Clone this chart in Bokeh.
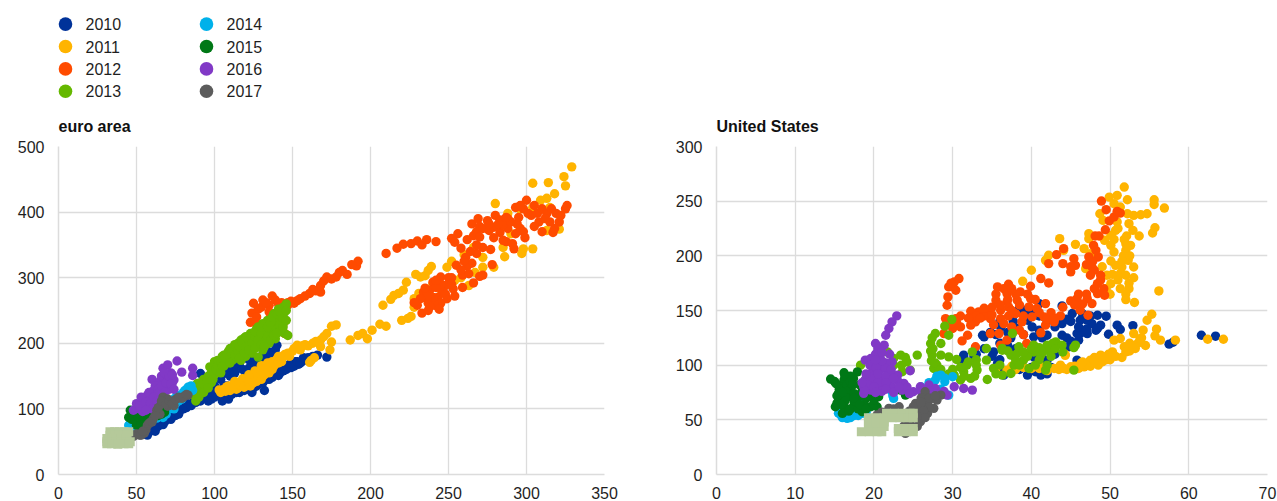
from bokeh.embed import file_html
from bokeh.resources import INLINE
from bokeh.plotting import figure
from bokeh.layouts import row, column
from bokeh.models import Range1d, FixedTicker, ColumnDataSource
from bokeh.core.properties import value

years = ["2010", "2011", "2012", "2013", "2014", "2015", "2016", "2017"]
colors = ["#003299", "#ffb400", "#ff4b00", "#65b800", "#00b1ea", "#007816", "#8139c6", "#5c5c5c"]
extra_color = "#b5c99a"

ea_xticks = [0, 50, 100, 150, 200, 250, 300, 350]
ea_yticks = [0, 100, 200, 300, 400, 500]
us_xticks = [0, 10, 20, 30, 40, 50, 60, 70]
us_yticks = [0, 50, 100, 150, 200, 250, 300]

ea_2010 = [(56,62),(58,65),(60,68),(62,66),(63,72),(66,78),(68,80),(70,88),(72,84),(74,92),(76,95),(78,98),(80,100),(82,102),(84,106),(86,108),(88,110),(91,154),(92,118),(94,120),(96,112),(96,124),(98,115),(100,118),(102,125),(103,150),(105,112),(106,118),(106,155),(108,154),(108,120),(110,160),(112,125),(113,165),(115,128),(116,170),(118,130),(120,135),(122,175),(124,138),(125,172),(126,140),(128,148),(130,180),(132,150),(134,155),(135,178),(136,160),(138,152),(139,190),(140,197),(141,151),(141,158),(143,160),(145,162),(147,165),(149,163),(150,170),(152,172),(154,168),(156,172),(158,175),(160,178),(163,180),(166,182),(172,179),(140,165),(135,150),(128,155),(120,150),(132,128),(124,125),(115,140),(108,135),(100,150),(96,140),
    (57,60),(61,72),(64,74),(67,76),(69,84),(71,90),(73,88),(75,90),(77,92),(79,100),(81,106),(83,108),(85,105),(87,112),(89,118),(91,112),(93,125),(95,118),(97,130),(99,125),(100,135),(101,120),(104,128),(106,135),(109,115),(110,132),(111,122),(114,125),(116,125),(117,135),(119,128),(121,130),(123,135),(125,132),(127,135),(129,140),(131,140),(133,145),(135,145),(137,148),(139,155),(142,155),(144,158),(146,160),(148,168),(151,165),(153,172),(155,170),(157,178),(161,175),(104,145),(110,150),(113,155),(118,160),(122,162),(126,168),(130,170),(134,188),(138,180)]
ea_2011 = [(103,129),(106,130),(108,134),(110,128),(112,136),(113,142),(115,132),(116,140),(118,146),(120,138),(121,144),(122,152),(124,142),(125,150),(126,158),(128,148),(129,156),(130,166),(131,150),(131,164),(133,158),(134,170),(136,162),(137,172),(139,170),(140,176),(142,176),(144,180),(147,185),(150,188),(153,197),(156,196),(160,196),(163,200),(162,174),(161,171),(168,205),(172,215),(175,226),(174,190),(175,202),(187,205),(192,212),(195,215),(198,207),(201,220),(206,229),(210,226),(220,235),(224,238),(226,241),(208,258),(213,267),(215,273),(218,276),(221,281),(223,293),(228,268),(228,255),(229,305),(232,301),(235,303),(237,311),(239,317),(231,276),(249,316),(252,325),(254,296),(260,335),(263,288),(267,308),(266,346),(268,369),(272,316),(279,316),(272,331),(285,346),(286,332),(290,367),(297,337),(298,344),(304,344),(280,413),(288,398),(304,444),(314,445),(324,454),(325,440),(329,469),(318,428),(309,418),(313,421),(304,407),(315,407),(296,405),(321,374),(313,372),(240,290),(245,282),(258,300),
    (104,125),(107,127),(109,135),(111,131),(114,130),(117,135),(119,133),(122,140),(123,135),(125,140),(127,142),(127,155),(130,145),(130,158),(132,152),(133,165),(135,155),(135,168),(137,160),(138,165),(141,170),(141,180),(143,172),(145,183),(148,180),(151,192),(155,190),(158,198),(165,203),(170,210),(168,195),(164,178),(178,228)]
ea_2012 = [(123,232),(125,261),(131,266),(137,272),(141,260),(124,246),(128,252),(135,258),(144,230),(145,215),(147,258),(151,261),(155,268),(161,276),(165,280),(168,278),(168,288),(172,301),(178,301),(182,311),(185,305),(191,318),(192,325),(210,337),(217,345),(221,351),(226,352),(230,356),(233,350),(236,358),(242,355),(252,360),(256,367),(254,354),(266,364),(265,382),(269,390),(270,378),(275,387),(280,395),(283,388),(279,377),(283,369),(279,361),(287,355),(288,390),(293,407),(288,375),(294,382),(300,418),(301,398),(307,398),(310,405),(313,398),(319,398),(315,385),(321,385),(310,370),(317,369),(325,405),(326,410),(299,361),(293,367),(296,375),(292,344),(285,357),(291,352),(272,346),(277,343),(268,337),(261,331),(265,322),(255,319),(262,318),(259,304),(263,306),(278,320),(272,304),(270,302),(266,292),(259,285),(253,283),(250,300),(245,301),(240,293),(248,288),(234,278),(238,281),(243,270),(249,268),(230,258),(237,261),(245,261),(233,246),(237,250),(241,258),(246,278),(240,270),(236,268),
    (268,370),(272,375),(276,372),(285,380),(290,385),(295,392),(298,405),(303,395),(305,410),(308,385),(312,390),(316,405),(322,395),(318,375),(305,378),(298,370),(287,392),(282,382),(276,382),(296,410),(270,362),(262,358),(258,345),(264,340),(268,350),(260,325),(252,300),(258,312),(245,290),(242,285),(252,290),(236,272),(232,268),(244,252),(238,256),(235,284),(242,296),(248,275),(254,272),(228,262),
    (127,240),(130,255),(133,262),(126,232),(135,248),(139,266),(143,262),(147,262),(149,264),(153,265),(158,272),(163,282),(170,295),(175,298),(180,308),(188,320)]
ea_2013 = [(87,121),(88,112),(89,139),(90,128),(92,135),(93,145),(94,130),(96,150),(97,164),(98,140),(100,172),(100,152),(102,174),(103,160),(105,180),(106,182),(106,165),(108,170),(109,188),(110,178),(112,194),(112,175),(114,190),(115,200),(117,174),(117,205),(118,190),(119,208),(120,180),(121,198),(123,215),(124,185),(125,205),(127,222),(128,179),(128,195),(129,212),(131,230),(131,190),(132,205),(133,220),(134,235),(135,200),(136,215),(138,245),(138,225),(139,207),(140,235),(141,252),(142,218),(143,240),(144,255),(145,215),(145,248),(147,212),(146,260),
    (88,125),(90,118),(91,140),(93,125),(95,142),(96,132),(98,155),(99,145),(101,160),(102,165),(104,155),(104,172),(105,165),(107,178),(108,184),(110,170),(110,192),(111,185),(113,182),(113,198),(115,188),(116,178),(116,195),(118,200),(119,186),(120,195),(120,210),(122,190),(122,205),(124,200),(124,212),(126,192),(126,210),(126,218),(128,205),(128,225),(130,198),(130,215),(130,225),(132,195),(132,228),(134,210),(134,225),(136,205),(136,232),(137,240),(138,212),(140,215),(140,245),(142,228),(142,248),(144,225),(144,238),(146,235),(146,250)]
ea_2014 = [(45,75),(47,78),(50,80),(54,76),(57,80),(60,84),(63,86),(67,87),(69,92),(66,100),(70,105),(72,110),(74,115),(76,121),(78,118),(80,125),(83,133),(85,135),(82,122),(74,100),(48,88),
    (52,82),(56,86),(62,90),(64,95),(68,98),(71,100),(73,112),(75,108),(77,112),(79,115),(81,128),(84,128),(86,128),(49,82),(47,72)]
ea_2015 = [(45,87),(46,98),(48,90),(50,75),(50,95),(53,83),(55,78),(56,92),(58,88),(60,85),(62,95),(64,90),(67,101),(68,95),(52,72),
    (47,84),(49,82),(51,88),(52,92),(54,82),(55,88),(57,82),(59,92),(61,90),(63,98),(65,98),(66,92),(53,76)]
ea_2016 = [(48,98),(50,108),(52,100),(54,112),(55,105),(57,121),(57,101),(59,115),(60,145),(61,128),(62,108),(63,135),(64,120),(65,142),(66,150),(67,162),(67,124),(68,135),(70,167),(70,148),(71,130),(72,155),(73,140),(74,144),(76,173),(79,156),(86,162),(86,151),(54,96),(60,104),
    (52,105),(53,118),(56,110),(58,125),(59,108),(61,118),(62,135),(63,112),(64,130),(65,125),(66,135),(68,125),(68,155),(69,140),(71,150),(72,138),(73,152),(74,130),(60,100),(56,98),(66,115)]
ea_2017 = [(45,57),(47,60),(50,62),(52,60),(55,63),(56,68),(57,75),(59,80),(61,86),(63,98),(65,92),(67,118),(66,108),(68,112),(70,104),(72,108),(74,112),(76,116),(79,116),(81,120),(83,121),(70,115),(74,105),
    (48,58),(53,60),(54,66),(58,78),(60,80),(62,90),(64,102),(66,112),(69,108),(71,112),(73,108),(75,114),(77,118),(80,118),(82,122)]
ea_2018 = [(33,65),(36,65),(39,65),(42,65),(45,65),(33,60),(36,60),(39,60),(42,60),(44,60),(31,55),(34,55),(37,55),(40,55),(43,55),(31,50),(34,50),(37,50),(40,50),(43,50),(46,50),(31,47),(34,47),(38,46),(42,47),(45,47)]

us_2010 = [(43.9,154.2),(41,156.3),(39,150.2),(39.5,141.1),(40.1,135),(40.3,125.9),(42,127.4),(43.9,138),(43.9,127.4),(45.2,147.2),(46.2,141.1),(47.7,138),(48.4,145.7),(49.5,144.8),(48.8,136.6),(48.2,132),(47.1,128.9),(46.2,128.9),(46,122.9),(49.8,128.3),(50.9,136.6),(51.3,132.6),(52.9,136.2),(57.5,119.2),(58,121),(61.6,127.4),(63.4,126.5),(35.2,112.2),(34,125.9),(34.8,130),(36.1,135),(38.2,133.5),(31.4,109.2),(32.7,107.6),(37.4,125),(41.4,125),(44.8,116.8),(45,118),(35.7,101.6),(31,104.6),(42,104.6),(40.3,107.6),(33.8,127.4),(31.4,107.6),(36.5,90.9),(39.5,90.9),(41.2,90.9),(45.8,129),(47.1,141),(48.4,133.5),(45.8,104.6),(37.7,140),(36,120),(38,115),(42.5,98),(43,110),
    (38.5,152),(40,148),(41,145),(42,140),(43,135),(44.5,142),(45,140),(46,135),(47,133),(47.5,145),(46.5,147),(41,132),(39,128),(37,130),(35.5,128),(36,140),(37,118),(33,110),(34,115),(35,108),(36,105),(40,98),(38.5,96),(40.5,94),(42,92),(37.5,95),(36,97),(44.5,125),(45,122)]
us_2011 = [(51.8,262.9),(49.9,253.7),(50.9,255.3),(52.2,251.3),(50.5,247.7),(51.3,244.6),(55.6,251.3),(55.6,247),(56.9,243.7),(54.7,238.5),(53.9,237.6),(53,237),(48.7,238.5),(49.1,232.4),(52.2,238.5),(50.9,231),(50.7,223.3),(52.4,229.4),(52.9,223.3),(53.7,218.1),(55.7,225.7),(55.4,220.9),(52.1,218.1),(50.1,218.7),(49.3,214.2),(47.3,220.3),(47.3,215.7),(43.6,215.7),(45.6,210.5),(46.7,206.6),(50.1,209.6),(50.5,203.5),(52,211),(52.6,209.6),(52,205),(52.3,195.9),(50.1,195.3),(50.7,191.3),(51.5,189.8),(53,189.8),(51.3,183.7),(52,182.2),(49.6,182.2),(52.4,175),(52.4,170),(51.3,170),(50.1,174.6),(56.2,167.9),(50,164.9),(53.1,157.3),(41.8,195.9),(42.2,200.5),(40,186.8),(38.9,176.7),(44.1,205),(46.9,188.3),(47.5,202),(55.3,146.6),(54.7,141.1),(55.9,132.9),(55.7,126.8),(56.4,122.9),(58.3,122.9),(54.2,132),(53,128.9),(51.3,124.4),(50.5,122.9),(53.5,119.8),(53.2,115.2),(51.8,116.8),(50.3,112.2),(48.8,109.2),(47.5,104.6),(46.3,101.6),(45,98.5),(43.7,100),(44.3,109.8),(44.1,97),(46.7,98.5),(48.4,101.6),(42.9,97),(36.9,95.5),(44.3,109),(49.5,105),(49.8,110),(52,112),(47,100),(41,100),(39,98),(62.4,123.7),(64.4,123.7),(48,107),
    (42,95),(43.5,96),(44.5,96),(45.5,99),(46,97),(47.5,99),(48.5,100),(49,103),(50,105),(50.7,108),(51.5,107),(52.5,113),(52.5,120),(54,125),(46.5,103),(40,97),(38,96),(35.5,97),(37.5,99),(41,97),(48,104),(49,108),(54.5,118),(53.8,124),
    (51,225),(50.5,215),(51.8,215),(51.7,200),(49,190),(52.5,200),(51,178),(51.5,195),(53,180),(52,165),(52,160),(49.5,170),(50.3,183)]
us_2012 = [(48.9,250.1),(49.5,242.2),(49.9,232),(50.5,235.5),(50.9,240.7),(51.3,239.1),(49.4,223.9),(48.1,218.1),(48.6,218.1),(47.9,209.6),(44.1,206.6),(43.2,201.1),(42.2,192.9),(44,192.9),(45.4,197.4),(45.6,191.3),(45,185.3),(47.3,199),(48.5,199),(47.7,189.8),(48,186.8),(47.5,182.2),(48.8,182.2),(48.4,174.6),(49.2,170),(48.4,165.5),(49.3,164),(47.1,160.9),(45.8,160.9),(45,158.8),(47.7,156.3),(46.2,150.2),(47.2,145.7),(41.2,179.2),(42.2,175.2),(39.9,172.2),(41.8,156.3),(38.6,167),(37.1,174),(35.7,171.6),(36.9,165.5),(35.5,159.4),(36.9,158),(38.2,159.4),(39.9,160.9),(39.7,153.3),(40.7,151.8),(38,147.2),(37.1,153.3),(36.1,150.2),(34.6,150.2),(33.3,148.7),(32.3,149.3),(34.8,142.6),(36.1,142.6),(37.1,145),(38.8,139.6),(40.1,144.2),(41.6,144.2),(43.7,145.1),(41.8,136.6),(42.9,139.6),(32.9,139.6),(32.3,136.6),(29.1,142.6),(30.4,142.6),(31,135),(28.9,128.9),(30,133.5),(31.9,127.4),(31.2,122.2),(34.8,128.9),(35.9,128.9),(36.9,122.9),(36.1,118.3),(39.4,119.8),(41.2,129.6),(32.9,116.8),(30.8,179.2),(30.2,176.1),(29.5,171.6),(30.4,168.5),(29.4,162.4),(29.3,154.8),(29.8,175),(35.2,137),(37.5,135),(34,145),(39,128),
    (33,145),(35,146),(36,155),(37,160),(37.5,150),(38.5,155),(39,145),(38,165),(36.5,170),(39.5,165),(40.5,160),(41,148),(42.5,148),(42,142),(43,143),(35,153),(34,152),(33.5,143),(32,143),(31,145),(30.5,139),(29.8,138),(35.5,165),(37.5,170),(36.5,138),(38.5,132),(44,153),(46.5,156),(47,165),(48,170),(48.8,178),(46,165),(45.5,155),(47.8,195),(48.2,205),(47,192),(45,190)]
us_2013 = [(29.9,141.7),(29,135.7),(29.5,127.4),(27.8,129),(27.2,119.8),(28.5,119.8),(27.4,109.2),(28.5,109.2),(29.5,107.6),(30.5,105.2),(27.6,97),(28.5,92.4),(30.2,90.9),(31.4,94),(32.3,87.9),(31,86.4),(32.5,112.2),(32,103),(33.1,95.5),(34.4,86.9),(34.3,115.2),(34.3,104.6),(35.2,97),(36.3,90.9),(37.6,129),(36.3,115.2),(37.4,109.2),(37.8,100),(37.4,92.4),(38.4,116.8),(39,104.6),(39.7,97),(40.3,118.3),(42,118.3),(41.2,109.2),(41.8,95.5),(43.1,121.3),(42.4,113.7),(43.9,118.3),(45.4,95.5),(45.6,118.3),(45.4,116),(25.5,109.2),(24.2,103),(23.4,109.2),(24.6,95.5),(23.6,94),(18.3,100),(21.7,112.2),(22.5,106.1),(27.2,113),(27.3,104),(28,100),(31,98),(31.8,100),(38.2,110.7),(36.3,113.7),(42.7,119.8),(40.3,112),(39.5,108),(41,105),(42.5,108),(27.4,125),
    (27.5,115),(27.8,102),(28.5,96),(29.5,92),(32.8,90),(30,96),(33,105),(33,100),(35.5,92),(36,100),(38,105),(38.5,100),(37,113),(39,112),(40,115),(41,116),(41.5,112),(42,100),(40.5,100),(43,115),(44,112),(22.5,100),(23.5,100),(24,107),(31.5,90)]
us_2014 = [(16.6,51.3),(15.8,54.4),(18.1,55.9),(18.6,56),(18.1,68),(22.3,75.7),(22.5,69.6),(28.5,90.9),(30,89.4),(27.8,86.4),(26.8,78.7),(29.5,72.6),(17.5,54),(27,84),(29,85),
    (16,52),(17,52),(15.5,56),(18,54),(19,57),(22.4,72),(28,90),(29,88),(26,80),(28.5,78),(29,74)]
us_2015 = [(14.5,87.3),(16.2,93),(15,85),(17.9,93.9),(17.4,87.9),(16.2,86.3),(15.8,80.3),(15.5,74.2),(17,78.7),(15.5,68),(17,71.1),(18.1,71.1),(15.1,62),(16.2,62),(17.4,62),(16,55.9),(18.5,57.4),(19.6,62),(20.4,62),(19,70),(20.6,71.1),(21.9,80.3),(18.9,86.3),(24,72.6),(23.4,77.2),(16,72),(16.3,67),(17.5,66),(18.8,64),(15.6,78),(16.6,82),
    (15.3,72),(15.3,65),(16.5,76),(16.5,70),(17.5,74),(17.5,70),(16.8,58),(15.8,64),(17,60),(18,60),(18.2,64),(19,60),(20,64),(16.3,90),(15.2,83),(17,90),(18.2,82),(19.5,72),(16,75),(17,85),(17.3,82),(18.5,76),(20,68)]
us_2016 = [(22.9,145.1),(22.3,139.6),(21.9,133.5),(21.5,127.4),(20.2,119.8),(21.3,118.3),(20.8,109),(19.6,106.1),(18.9,104.6),(22.3,103),(20.8,96),(19.8,94),(23,90.9),(24.6,94.9),(18.9,86.3),(20.8,86),(21.9,86),(23.8,83.3),(18.7,80.3),(19.6,77.2),(18.7,74.2),(20.8,80),(23.6,77.2),(25,75.7),(25.9,80.3),(27,81.8),(27.8,78.7),(29.3,72.6),(30.2,80.3),(31.4,78.7),(32.5,77.2),(28.9,76),(20.4,102),(21.5,102),(20.2,110),(22,92),(19.5,84),(21,76),(22.3,80),(23,86),(20,90),(21.5,97),
    (19.5,100),(20.3,98),(21,104),(20.5,92),(21.5,90),(22.2,96),(19.5,88),(20.5,84),(21.5,84),(22.5,88),(19.2,82),(20,80),(21.5,78),(22.5,75),(18.8,77),(20.2,75),(24.2,80),(24.5,74),(26,76),(27,77),(28,74),(23.2,80),(20.5,115),(21,112),(20.2,105),(18.5,84),(19,92),(22,110)]
us_2017 = [(26.5,75.7),(28.5,72.6),(27.4,69.6),(25.3,65),(26.8,65),(25.7,57.4),(26.8,55.9),(25.9,48.3),(24.9,43.7),(23.8,44.3),(24,37.6),(23.2,62),(21.9,60.5),(20.4,54.4),(23.4,55.9),(27.6,60.5),(25,52),(26,70),(27,62),(26.2,60),
    (25.8,62),(26.3,58),(27,70),(28,68),(25,62),(24.5,58),(26.5,52),(25.5,44),(24.5,48),(22.5,60),(21,57),(25.5,53),(27.8,72),(26,66)]
us_2018 = [(21.6,56),(22.6,56),(23.6,56),(24.6,56),(25,56),(19.3,52),(20.3,52),(21.3,52),(22.3,52),(23.3,52),(24.3,52),(25,52),(19.3,48),(20.3,48),(21.3,48),(19.3,44),(20.3,44),(21.3,44),(18.4,39),(19.4,39),(20.4,39),(21,39),(23.1,39),(24.1,39),(25,39),(23.1,42),(24.1,42),(25,42)]

ea_series = [ea_2010, ea_2011, ea_2012, ea_2013, ea_2014, ea_2015, ea_2016, ea_2017]
us_series = [us_2010, us_2011, us_2012, us_2013, us_2014, us_2015, us_2016, us_2017]
title_ea = "euro area"
title_us = "United States"
FONT = "Liberation Sans"
GRID = "#dcdcdc"
TEXT = "#1f1f1f"


def panel(title, series, extra, xmax, ymax, xticks, yticks, width, height, left, right):
    p = figure(width=width, height=height, output_backend="svg", toolbar_location=None,
               x_range=Range1d(0, xmax), y_range=Range1d(0, ymax), title=title,
               min_border_left=left, min_border_right=right, min_border_top=46, min_border_bottom=27)
    p.outline_line_color = None
    p.title.text_font = FONT
    p.title.text_font_size = "16px"
    p.title.text_font_style = "bold"
    p.title.text_color = "#111111"
    p.title.offset = 0
    p.title.standoff = 24
    for ax, ticks in ((p.xaxis[0], xticks), (p.yaxis[0], yticks)):
        ax.ticker = FixedTicker(ticks=ticks)
        ax.major_tick_line_color = None
        ax.minor_tick_line_color = None
        ax.axis_line_color = GRID
        ax.axis_line_width = 1.5
        ax.major_label_text_font = FONT
        ax.major_label_text_font_size = "16px"
        ax.major_label_text_color = TEXT
    p.xaxis[0].major_label_standoff = 6
    p.yaxis[0].major_label_standoff = 8
    p.xgrid[0].ticker = FixedTicker(ticks=xticks)
    p.ygrid[0].ticker = FixedTicker(ticks=yticks)
    for g in (p.xgrid[0], p.ygrid[0]):
        g.grid_line_color = GRID
        g.grid_line_width = 1.3
    for pts, color in zip(series, colors):
        src = ColumnDataSource(data=dict(x=[a for a, _ in pts], y=[b for _, b in pts]))
        p.scatter("x", "y", source=src, size=9.4, marker="circle", color=color, line_width=0)
    src = ColumnDataSource(data=dict(x=[a for a, _ in extra], y=[b for _, b in extra]))
    p.scatter("x", "y", source=src, size=9, marker="square", color=extra_color, line_width=0)
    return p


p1 = panel(title_ea, ea_series, ea_2018, 350, 500, ea_xticks, ea_yticks, 658, 401, 58, 54)
p2 = panel(title_us, us_series, us_2018, 70, 300, us_xticks, us_yticks, 619, 401, 58, 10)

# legend block: two columns of four entries each
leg = figure(width=1277, height=100, output_backend="svg", toolbar_location=None,
             x_range=Range1d(0, 1277), y_range=Range1d(100, 0),
             x_axis_location=None, y_axis_location=None,
             min_border_left=0, min_border_right=0, min_border_top=0, min_border_bottom=0)
leg.grid.visible = False
leg.outline_line_color = None
col_of = [i // 4 for i in range(len(years))]
row_of = [i % 4 for i in range(len(years))]
leg_src = ColumnDataSource(data=dict(
    x=[65 + 141 * c for c in col_of],
    tx=[85 + 141 * c for c in col_of],
    y=[23.6 + 22.4 * r for r in row_of],
    color=colors, label=years))
leg.scatter("x", "y", source=leg_src, size=13.6, marker="circle", color="color", line_width=0)
leg.text("tx", "y", text="label", source=leg_src, text_font=value(FONT), text_font_size="16px",
         text_color=TEXT, text_baseline="middle")

open("out.html", "w").write(file_html(column(leg, row(p1, p2), spacing=0), INLINE))
